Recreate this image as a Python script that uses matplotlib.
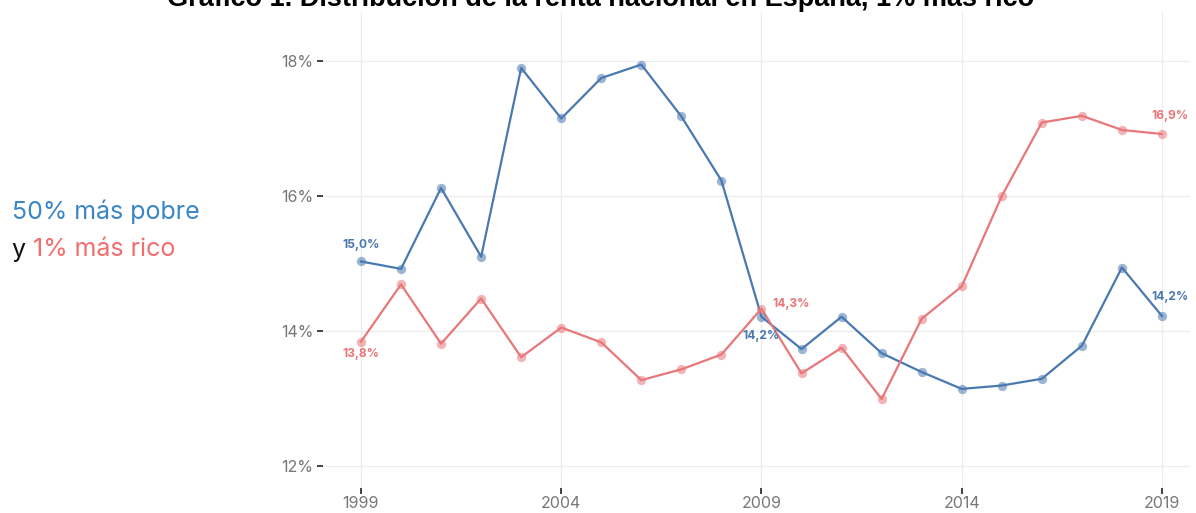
import matplotlib
matplotlib.use("Agg")
import matplotlib.pyplot as plt

years = list(range(1999, 2020))
pobre50 = [15.03, 14.92, 16.12, 15.10, 17.90, 17.15, 17.75, 17.95, 17.18, 16.23,
           14.21, 13.73, 14.21, 13.67, 13.39, 13.14, 13.19, 13.29, 13.78, 14.94, 14.22]
rico1 = [13.84, 14.69, 13.81, 14.48, 13.61, 14.05, 13.83, 13.27, 13.43, 13.65,
         14.33, 13.37, 13.75, 12.99, 14.18, 14.66, 16.00, 17.09, 17.19, 16.98, 16.92]
xticks = [1999, 2004, 2009, 2014, 2019]
yticks = [12, 14, 16, 18]

BLUE = "#4a78b0"
RED = "#e8777a"
LBLUE = "#3a86c8"
LRED = "#f26d6d"

fig = plt.figure(figsize=(11.96, 5.13), dpi=100)
ax = fig.add_axes([0.270, 0.0487, 0.725, 0.928])

ax.plot(years, pobre50, color=BLUE, lw=1.6, zorder=3)
ax.scatter(years, pobre50, s=45, color=BLUE, alpha=0.55, lw=0, zorder=4)
ax.plot(years, rico1, color=RED, lw=1.6, zorder=3)
ax.scatter(years, rico1, s=45, color=RED, alpha=0.55, lw=0, zorder=4)

ax.set_xlim(1998.05, 2019.7)
ax.set_ylim(11.67, 18.73)
ax.set_xticks(xticks)
ax.set_yticks(yticks)
ax.set_xticklabels([str(y) for y in xticks])
ax.set_yticklabels([f"{y}%" for y in yticks])
for s in ax.spines.values():
    s.set_visible(False)
ax.grid(True, color="#ececec", lw=0.9)
ax.set_axisbelow(True)
ax.tick_params(axis="both", length=4, width=1.3, color="#333333",
               labelcolor="#777777", labelsize=11.5)
ax.tick_params(axis="y", pad=3)
ax.tick_params(axis="x", pad=2)
for lab in ax.get_xticklabels() + ax.get_yticklabels():
    lab.set_family("Inter")

def fmt(v):
    return f"{v:.1f}%".replace(".", ",")

ann = dict(fontsize=8.7, fontweight="bold", family="Inter")
ax.annotate(fmt(pobre50[0]), (years[0], pobre50[0]), xytext=(0, 12), textcoords="offset points",
            ha="center", va="center", color=BLUE, **ann)
ax.annotate(fmt(rico1[0]), (years[0], rico1[0]), xytext=(0, -9), textcoords="offset points",
            ha="center", va="center", color=RED, **ann)
ax.annotate(fmt(rico1[10]), (years[10], rico1[10]), xytext=(8, 3), textcoords="offset points",
            ha="left", va="center", color=RED, **ann)
ax.annotate(fmt(pobre50[10]), (years[10], pobre50[10]), xytext=(0, -14), textcoords="offset points",
            ha="center", va="center", color=BLUE, **ann)
ax.annotate(fmt(rico1[-1]), (years[-1], rico1[-1]), xytext=(6, 13), textcoords="offset points",
            ha="center", va="center", color=RED, **ann)
ax.annotate(fmt(pobre50[-1]), (years[-1], pobre50[-1]), xytext=(6, 14), textcoords="offset points",
            ha="center", va="center", color=BLUE, **ann)

fig.text(12/1196, 1 - 212/513, "50% más pobre", color=LBLUE, fontsize=18, family="Inter",
         ha="left", va="center")
t1 = fig.text(12/1196, 1 - 250/513, "y ", color="#111111", fontsize=18, family="Inter",
              ha="left", va="center")
fig.canvas.draw()
bb = t1.get_window_extent()
fig.text(bb.x1 / 1196, 1 - 250/513, "1% más rico", color=LRED, fontsize=18, family="Inter",
         ha="left", va="center")

fig.text(0.5025, 1 - 6/513, "Gráfico 1. Distribución de la renta nacional en España, 1% más rico",
         fontsize=19.5, fontweight="bold", family="Liberation Sans", ha="center", va="baseline")

fig.savefig("out.png", dpi=100)
